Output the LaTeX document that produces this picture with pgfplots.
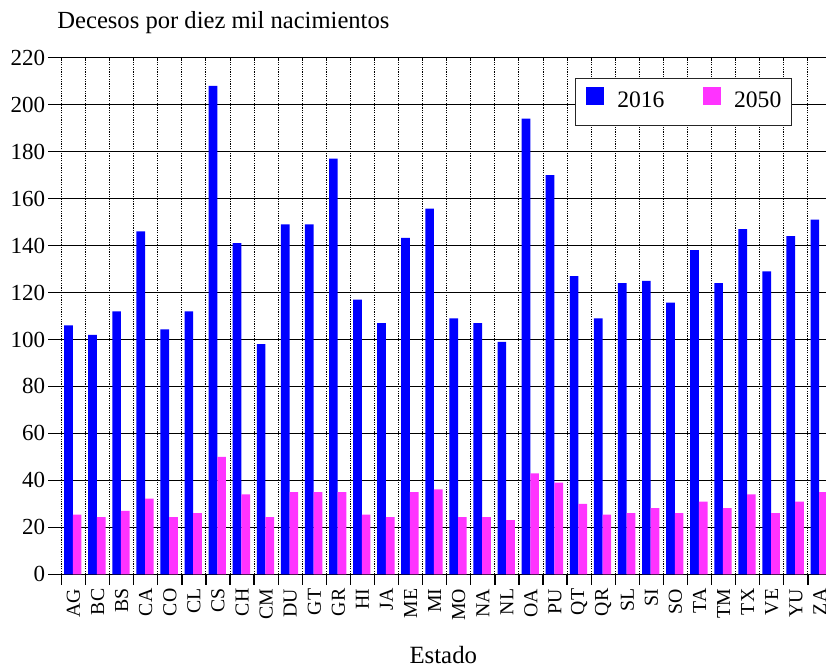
\documentclass[border=0pt]{standalone}
\usepackage{fontspec}
\setmainfont{Liberation Serif}
\usepackage{pgfplots}
\pgfplotsset{compat=1.18}
\usepackage{pgfplotstable}
\definecolor{barblue}{RGB}{0,0,255}
\definecolor{barpink}{RGB}{255,51,255}

\pgfplotstableread{
idx st v2016 v2050
0 AG 106 25.4
1 BC 102 24.3
2 BS 112 27
3 CA 146 32.2
4 CO 104.3 24.3
5 CL 112 26
6 CS 208 50
7 CH 141 34
8 CM 98 24.3
9 DU 149 35
10 GT 149 35
11 GR 177 35
12 HI 117 25.4
13 JA 107 24.3
14 ME 143.3 35
15 MI 155.7 36.2
16 MO 109 24.3
17 NA 107 24.3
18 NL 99 23.1
19 OA 194 43
20 PU 170 39
21 QT 127 30
22 QR 109 25.4
23 SL 124 26
24 SI 125 28.2
25 SO 115.7 26
26 TA 138 31
27 TM 124 28.2
28 TX 147 34
29 VE 129 26
30 YU 144 31
31 ZA 151 35
}\datatable

\begin{document}
\begin{tikzpicture}
\begin{axis}[
  at={(30.75pt,47.35pt)}, anchor=south west,
  scale only axis, width=385.25pt, height=258.3pt,
  xmin=-0.5, xmax=31.5, ymin=0, ymax=220,
  ytick={0,20,...,220},
  yticklabels={0,20,40,60,80,100,120,140,160,180,200,220},
  xtick={0,...,31},
  xticklabels={AG,BC,BS,CA,CO,CL,CS,CH,CM,DU,GT,GR,HI,JA,ME,MI,MO,NA,NL,OA,PU,QT,QR,SL,SI,SO,TA,TM,TX,VE,YU,ZA},
  minor xtick={-0.5,0.5,...,31.5},
  axis x line*=bottom, axis y line*=left,
  x axis line style={-, black, line width=0.65pt},
  y axis line style={-, black, line width=0.9pt, dash pattern=on 0.6pt off 0.6pt},
  ymajorgrids, major y grid style={black, line width=0.65pt},
  xminorgrids, minor x grid style={black, line width=0.5pt, dash pattern=on 0.6pt off 0.6pt},
  tick align=outside,
  major tick length=6.5pt, minor tick length=5.3pt,
  tick style={black, line width=0.65pt},
  every major x tick/.style={draw=none},
  yticklabel style={font=\fontsize{11.5pt}{13pt}\selectfont, inner xsep=1.5pt},
  xticklabel style={font=\fontsize{9.9pt}{11pt}\selectfont, rotate=90, anchor=east, inner xsep=0.5pt},
  legend columns=2,
  legend style={at={(0.6674,0.9601)}, anchor=north west, draw=black!85, line width=0.65pt,
    fill=white, outer sep=0pt, inner xsep=5pt, inner ysep=4.2pt,
    font=\fontsize{11.8pt}{14pt}\selectfont,
    nodes={inner sep=0pt, text depth=4.65pt},
    /tikz/every odd column/.append style={column sep=6.5pt},
    /tikz/every even column/.append style={column sep=19pt}},
]
\addplot[ybar, bar width=0.36, bar shift=-0.21, fill=barblue, draw=none,
  legend image code/.code={\fill[barblue] (0pt,-0.3pt) rectangle (9.3pt,9pt);}]
  table[x=idx, y=v2016] {\datatable};
\addlegendentry{2016}
\addplot[ybar, bar width=0.36, bar shift=0.15, fill=barpink, draw=none,
  legend image code/.code={\fill[barpink] (0pt,-0.3pt) rectangle (9.3pt,9pt);}]
  table[x=idx, y=v2050] {\datatable};
\addlegendentry{2050}
\end{axis}
\node[anchor=base west, inner sep=0pt, font=\fontsize{12.3pt}{14pt}\selectfont] at (28.5pt,320.35pt) {Decesos por diez mil nacimientos};
\node[anchor=base, inner sep=0pt, font=\fontsize{12.4pt}{14pt}\selectfont] at (221.65pt,2.85pt) {Estado};
\pgfresetboundingbox
\useasboundingbox (0,0) rectangle (413pt,334.5pt);
\end{tikzpicture}
\end{document}
